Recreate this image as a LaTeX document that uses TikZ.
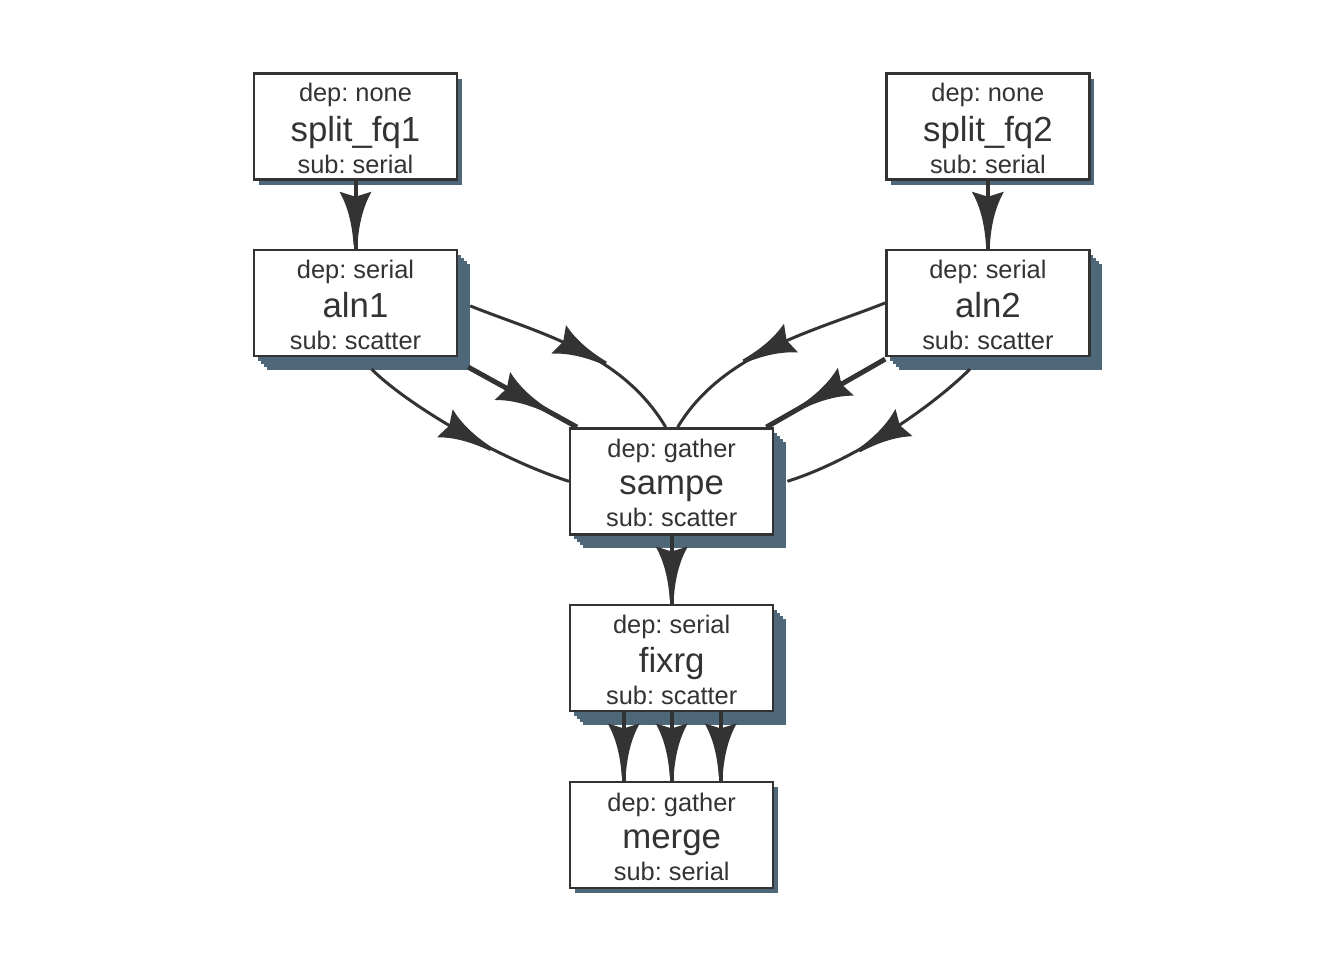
\documentclass[tikz,border=0pt]{standalone}
\usepackage{fontspec}
\setmainfont{Liberation Sans}
\usepackage{tikz}
\usetikzlibrary{positioning,calc,shadows,decorations.markings}
\definecolor{ink}{RGB}{51,51,51}
\definecolor{shade}{RGB}{78,104,121}
\frenchspacing
\newcommand{\smallfont}{\fontsize{12.7}{15}\selectfont}
\newcommand{\bigfont}{\fontsize{17.4}{20}\selectfont}
\newcommand{\jobtext}[3]{\rule{0pt}{11.2pt}dep: #1\\[3.5pt]{\bigfont #2}\\[1pt]sub: #3}
\tikzset{
    job/.style={
        draw=ink,
        line width=1.2pt,
        fill=white,
        align=center,
        inner sep=0pt,
        minimum width=101.5pt,
        minimum height=53pt,
        text=ink,
        font=\smallfont
    },
    single/.style={
        job,
        general shadow={fill=shade, shadow xshift=2.5pt, shadow yshift=-2.5pt}
    },
    stacked/.style={
        job,
        general shadow={fill=shade, shadow xshift=6.5pt, shadow yshift=-7pt},
        general shadow={fill=shade, shadow xshift=5pt, shadow yshift=-5.5pt},
        general shadow={fill=shade, shadow xshift=3.5pt, shadow yshift=-4pt},
        general shadow={fill=shade, shadow xshift=2pt, shadow yshift=-2.5pt}
    },
    flow/.style={
        draw=ink,
        line width=2pt,
        postaction=decorate,
        decoration={markings, mark=at position 0.5 with {
            \fill[ink] (-11.5pt,8pt) .. controls (-10.5pt,4pt) .. (-9pt,0pt)
                .. controls (-10.5pt,-4pt) .. (-11.5pt,-8pt)
                .. controls (-9.5pt,-7pt) and (-1.5pt,-2pt) .. (15pt,-1pt)
                -- (15pt,1pt)
                .. controls (-1.5pt,2pt) and (-9.5pt,7pt) .. (-11.5pt,8pt) -- cycle;
        }}
    },
    thinflow/.style={flow, line width=1.5pt},
    thickflow/.style={flow, line width=2.5pt}
}

\begin{document}
\begin{tikzpicture}[x=0.5pt, y=-0.5pt]
    \useasboundingbox (0,0) rectangle (1344,960);
    \node[single] (split1) at (355.5,126.5) {\jobtext{none}{split\_fq1}{serial}};
    \node[single, right=213.5pt of split1] (split2) {\jobtext{none}{split\_fq2}{serial}};
    \node[stacked, below=34pt of split1] (aln1) {\jobtext{serial}{aln1}{scatter}};
    \node[stacked, below=34pt of split2] (aln2) {\jobtext{serial}{aln2}{scatter}};
    \coordinate (mid) at ($(aln1.south)!0.5!(aln2.south)$);
    \node[stacked, below=35pt of mid] (sampe) {\jobtext{gather}{sampe}{scatter}};
    \node[stacked, below=34pt of sampe] (fixrg) {\jobtext{serial}{fixrg}{scatter}};
    \node[single, below=34.5pt of fixrg] (merge) {\jobtext{gather}{merge}{serial}};

    \draw[flow] (split1) -- (aln1);
    \draw[flow] (split2) -- (aln2);

    \draw[thinflow] ([shift={(6pt,-1.5pt)}]aln1.east) .. controls +(70,28) and +(-45,-75) .. ([xshift=-3pt]sampe.north);
    \draw[thickflow] ([shift={(5pt,-5pt)}]aln1.south east) -- ([xshift=4pt]sampe.north west);
    \draw[thinflow] ([shift={(8pt,-6pt)}]aln1.south) .. controls +(35,35) and +(-70,-22) .. (sampe.west);

    \draw[thinflow] (aln2.west) .. controls +(-70,28) and +(45,-75) .. ([xshift=3pt]sampe.north);
    \draw[thickflow] ([yshift=-1pt]aln2.south west) -- ([xshift=-4pt]sampe.north east);
    \draw[thinflow] ([shift={(-9pt,-6pt)}]aln2.south) .. controls +(-35,35) and +(70,-22) .. ([xshift=6.5pt]sampe.east);

    \draw[flow] (sampe) -- (fixrg);
    \foreach \dx in {-24,0,24.5}
        \draw[flow] ([xshift=\dx pt]fixrg.south) -- ([xshift=\dx pt]merge.north);
\end{tikzpicture}
\end{document}
